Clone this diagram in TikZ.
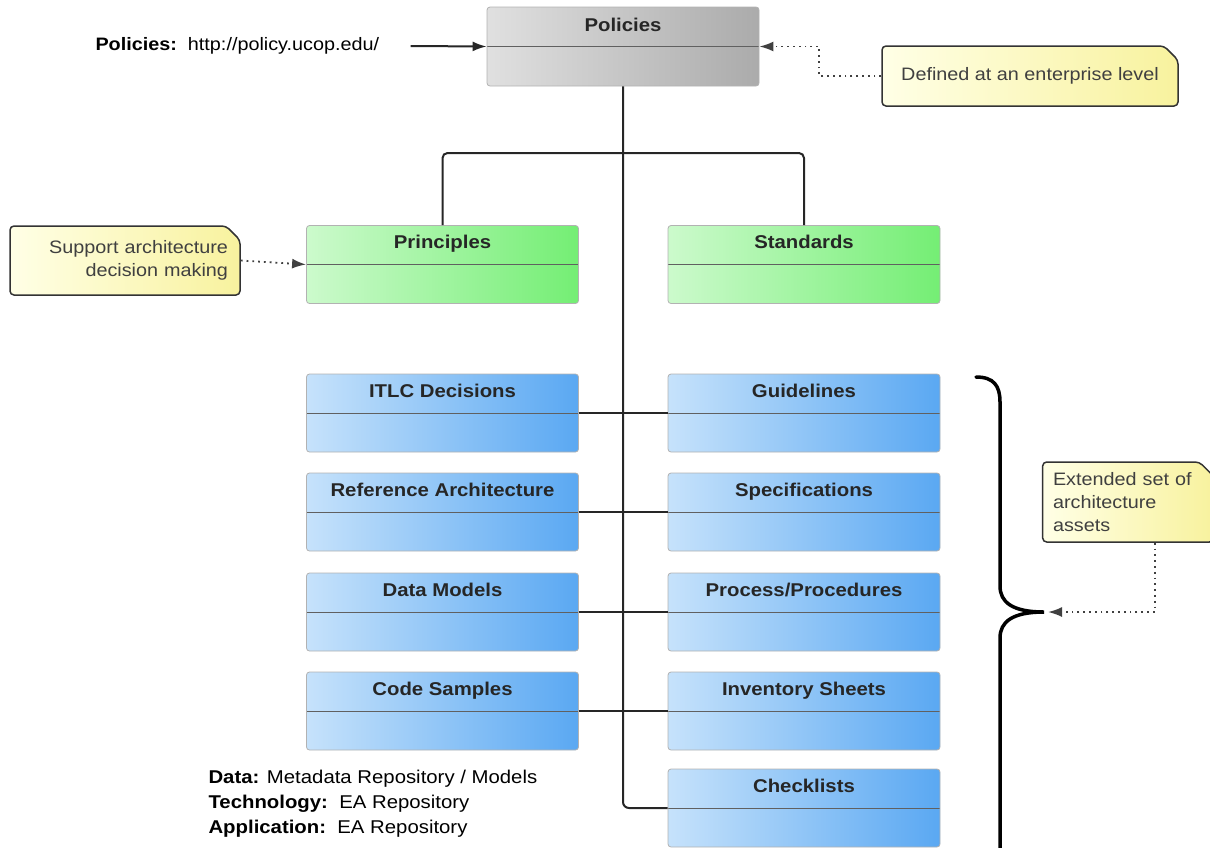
\documentclass[tikz,border=0pt]{standalone}
\usepackage{fontspec}
\setmainfont{Liberation Sans}[FakeStretch=1.1]
\usetikzlibrary{arrows.meta,shapes.misc}

\definecolor{grayL}{HTML}{E0E0E0}
\definecolor{grayR}{HTML}{ABABAB}
\definecolor{grnL}{HTML}{CCFACC}
\definecolor{grnR}{HTML}{74EE74}
\definecolor{bluL}{HTML}{C6E2FB}
\definecolor{bluR}{HTML}{5AA8F2}
\definecolor{noteL}{HTML}{FFFFE6}
\definecolor{noteR}{HTML}{F8F29E}
\definecolor{wire}{HTML}{262626}

\tikzset{
  umlbox/.style={rectangle, rounded corners=3pt, draw=gray!60, line width=0.8pt,
    minimum width=272pt, inner sep=0pt, text height=23pt, text depth=55pt,
    font=\fontsize{18.5}{22}\selectfont\bfseries, text=black!85,
    path picture={\draw[gray!75!black, line width=1pt]
      (path picture bounding box.west) -- (path picture bounding box.east);}},
  polbox/.style={umlbox, left color=grayL, right color=grayR, text height=24pt},
  grnbox/.style={umlbox, left color=grnL, right color=grnR},
  blubox/.style={umlbox, left color=bluL, right color=bluR},
  note/.style={chamfered rectangle, chamfered rectangle corners=north east,
    chamfered rectangle xsep=7pt, chamfered rectangle ysep=7pt,
    rounded corners=4pt, draw=black!80, line width=1.5pt,
    left color=noteL, right color=noteR, text=black!75,
    font=\fontsize{18}{23}\selectfont},
  wire/.style={draw=wire, line width=2pt},
  tip/.style={-{Latex[length=14pt,width=10pt]}},
  hint/.style={draw=black!75, line width=1.8pt, dash pattern=on 1.8pt off 4pt, tip}
}

\begin{document}
\begin{tikzpicture}[x=1pt, y=-1pt]
    \useasboundingbox (0,0) rectangle (1210,847);
    % top level
    \node[polbox] (pol) at (623,46.5) {Policies};
    \node[anchor=west, font=\fontsize{18}{22}\selectfont] (polurl) at (92,46)
        {\textbf{Policies:}\ \ http://policy.ucop.edu/};
    \draw[wire, tip] ([xshift=28pt]polurl.east) -- (pol.west);
    \node[note, minimum width=296pt, minimum height=60pt] (defnote) at (1030,76) {Defined at an enterprise level};
    \draw[hint] (defnote.west) -- ++(-62,0) |- (pol.east);
    % principles and standards
    \node[grnbox] (prin) at (442.5,264.5) {Principles};
    \node[grnbox] (stand) at (804,264.5) {Standards};
    \coordinate (fork) at (623,153);
    \draw[wire, rounded corners=5pt] (prin.north) |- (fork) -| (stand.north);
    \node[note, minimum width=230pt, minimum height=69pt, text width=206pt, align=right] (supnote) at (125,260.5)
        {Support architecture\\decision making};
    \draw[hint] (supnote.east) -- (prin.west);
    % architecture assets
    \node[blubox] (itlc) at (442.5,413) {ITLC Decisions};
    \node[blubox] (refarch) at (442.5,512) {Reference Architecture};
    \node[blubox] (datamod) at (442.5,612) {Data Models};
    \node[blubox] (codesamp) at (442.5,711) {Code Samples};
    \node[blubox] (guide) at (804,413) {Guidelines};
    \node[blubox] (spec) at (804,512) {Specifications};
    \node[blubox] (proc) at (804,612) {Process/Procedures};
    \node[blubox] (inv) at (804,711) {Inventory Sheets};
    \node[blubox] (check) at (804,808) {Checklists};
    % trunk and rungs
    \draw[wire, rounded corners=6pt] (pol.south) -- (pol.south |- check.west) -- (check.west);
    \draw[wire] (itlc.east) -- (guide.west);
    \draw[wire] (refarch.east) -- (spec.west);
    \draw[wire] (datamod.east) -- (proc.west);
    \draw[wire] (codesamp.east) -- (inv.west);
    % brace
    \coordinate (bracetip) at (1044,612);
    \draw[line width=3.5pt, line cap=round] (976,377) .. controls (994,377) and (1000,386) .. (1000,402)
        -- (1000,586) .. controls (1000,602) and (1012,612) .. (bracetip)
        .. controls (1012,612) and (1000,622) .. (1000,638) -- (1000,852);
    \node[note, minimum width=170pt, minimum height=80pt, text width=150pt, align=left] (extnote) at (1128,502)
        {Extended set of\\architecture\\assets};
    \draw[hint] ([xshift=27pt]extnote.south) |- ([xshift=4pt]bracetip);
    % repositories
    \node[anchor=west, align=left, font=\fontsize{18.5}{25}\selectfont] (repos) at (205,804)
        {\textbf{Data:} Metadata Repository / Models\\
         \textbf{Technology:}\ \ EA Repository\\
         \textbf{Application:}\ \ EA Repository};
\end{tikzpicture}
\end{document}
